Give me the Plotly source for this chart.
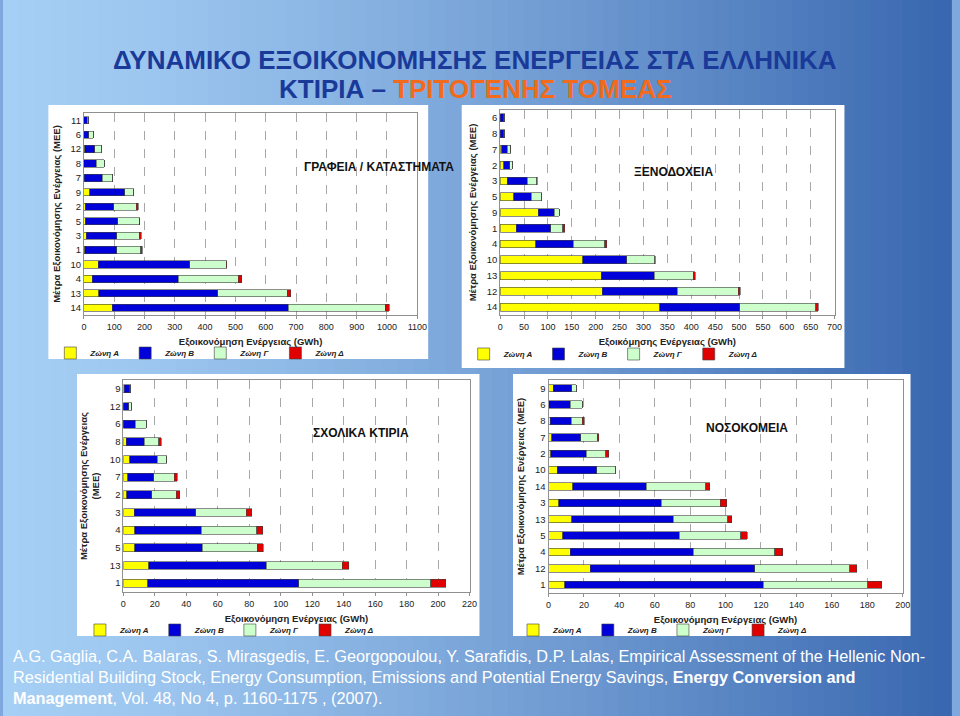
import plotly.graph_objects as go

W, H = 960, 716

zones = ["Ζώνη Α", "Ζώνη Β", "Ζώνη Γ", "Ζώνη Δ"]
zone_colors = ["#ffff00", "#0000d8", "#ccffcc", "#e00000"]

# ---- Panel 1: ΓΡΑΦΕΙΑ / ΚΑΤΑΣΤΗΜΑΤΑ (bottom -> top)
off_cats = ["14", "13", "4", "10", "1", "3", "5", "2", "9", "7", "8", "12", "6", "11"]
off_A = [94, 49, 27, 47, 3, 8, 5, 4, 20, 2, 0, 3, 0, 0]
off_B = [581, 393, 284, 303, 105, 101, 106, 95, 114, 58, 40, 33, 16, 11]
off_G = [320, 229, 199, 119, 80, 74, 71, 74, 31, 36, 28, 21, 15, 5]
off_D = [13, 12, 10, 2, 4, 6, 3, 7, 0, 0, 0, 0, 0, 0]

# ---- Panel 2: ΞΕΝΟΔΟΧΕΙΑ
hot_cats = ["14", "12", "13", "10", "4", "1", "9", "5", "3", "2", "7", "8", "6"]
hot_A = [334, 214, 212, 173, 74, 34, 80, 28, 15, 8, 3, 0, 0]
hot_B = [168, 157, 111, 92, 79, 72, 33, 37, 42, 12, 12, 8, 7]
hot_G = [159, 127, 81, 59, 66, 25, 11, 22, 20, 5, 7, 2, 3]
hot_D = [5, 5, 4, 1, 4, 4, 0, 0.5, 1, 0, 0, 0, 0]

# ---- Panel 3: ΣΧΟΛΙΚΑ ΚΤΙΡΙΑ
sch_cats = ["1", "13", "5", "4", "3", "2", "7", "10", "8", "6", "12", "9"]
sch_A = [15.6, 16, 7.3, 7.3, 6.9, 2.1, 2.7, 4.2, 1.9, 0, 0, 0.6]
sch_B = [96, 74.7, 42.7, 42.3, 39.2, 16, 16.5, 17.3, 11.4, 7.7, 3.5, 3.4]
sch_G = [83.8, 48.4, 35, 35.3, 32.1, 15.5, 13.3, 6, 9.2, 6.7, 1.7, 0.8]
sch_D = [9.4, 4.2, 4, 3.7, 3.3, 2.1, 1.7, 0, 1.5, 0, 0, 0]

# ---- Panel 4: ΝΟΣΟΚΟΜΕΙΑ
hos_cats = ["1", "12", "4", "5", "13", "3", "14", "10", "2", "7", "8", "6", "9"]
hos_A = [9.1, 23.5, 12.3, 8, 13.2, 5.8, 13.8, 5, 1.3, 1.9, 1.1, 0, 2.6]
hos_B = [112.3, 92.9, 69.3, 65.9, 57.2, 57.9, 41.3, 22.2, 19.9, 16.2, 11.6, 12.3, 10.6]
hos_G = [59, 53.6, 46.1, 34.7, 30.7, 33.3, 33.7, 10.4, 11, 9.3, 6.3, 6.7, 2.6]
hos_D = [7.9, 4.1, 4.5, 3.7, 2.3, 3.7, 2.3, 0, 1.7, 1.1, 1.1, 0, 0]

panel_titles = ["ΓΡΑΦΕΙΑ / ΚΑΤΑΣΤΗΜΑΤΑ", "ΞΕΝΟΔΟΧΕΙΑ", "ΣΧΟΛΙΚΑ ΚΤΙΡΙΑ", "ΝΟΣΟΚΟΜΕΙΑ"]
x_titles = ["Εξοικονόμηση Ενέργειας (GWh)", "Εξοικόμησης Ενέργειας (GWh)",
            "Εξοικονόμηση Ενέργειας (GWh)", "Εξοικονόμηση Ενέργειας (GWh)"]
y_titles = ["Μέτρα Εξοικονόμησης Ενέργειας (ΜΕΕ)", "Μέτρα Εξοικονόμησης Ενέργειας (ΜΕΕ)",
            "Μέτρα Εξοικονόμησης Ενέργειας<br>(ΜΕΕ)", "Μέτρα Εξοικονόμησης Ενέργειας (ΜΕΕ)"]

panels = [
    dict(cats=off_cats, vals=[off_A, off_B, off_G, off_D], rng=[0, 1100], dtick=100,
         box=(46, 105, 431, 359), plot=(82, 113, 420, 315), leg=(48, 353),
         ttl=(303, 158), bw=0.5),
    dict(cats=hot_cats, vals=[hot_A, hot_B, hot_G, hot_D], rng=[0, 700], dtick=50,
         box=(465, 105, 853, 368), plot=(504, 110, 843, 315), leg=(467, 354),
         ttl=(722, 163), bw=0.5),
    dict(cats=sch_cats, vals=[sch_A, sch_B, sch_G, sch_D], rng=[0, 220], dtick=20,
         box=(75, 374, 483, 636), plot=(122, 380, 473, 592), leg=(78, 630),
         ttl=(363, 433), bw=0.45),
    dict(cats=hos_cats, vals=[hos_A, hos_B, hos_G, hos_D], rng=[0, 200], dtick=20,
         box=(517, 374, 920, 636), plot=(553, 380, 912, 593), leg=(517, 630),
         ttl=(798, 428), bw=0.45),
]

def px(x):
    return x / W

def py(y):
    return 1 - y / H

fig = go.Figure()
shapes = []

# slide background gradient (light blue -> darker blue)
c0 = (166, 207, 245)
c1 = (58, 104, 176)
n = 60
for i in range(n):
    t = i / (n - 1)
    col = tuple(int(c0[k] + (c1[k] - c0[k]) * t ** 1.3) for k in range(3))
    shapes.append(dict(type="rect", xref="paper", yref="paper", layer="below",
                       x0=i / n, x1=(i + 1) / n + 0.002, y0=0, y1=1,
                       fillcolor="rgb(%d,%d,%d)" % col, line=dict(width=0)))

annotations = []
layout_axes = {}
font = "Arial, 'Liberation Sans', sans-serif"
narrow = "'Liberation Sans Narrow', 'Arial Narrow', Arial, sans-serif"

for p_i, p in enumerate(panels):
    k = p_i + 1
    xa = "x" if k == 1 else "x%d" % k
    ya = "y" if k == 1 else "y%d" % k
    lg = "legend" if k == 1 else "legend%d" % k
    bx0, by0, bx1, by1 = p["box"]
    shapes.append(dict(type="rect", xref="paper", yref="paper", layer="below",
                       x0=px(bx0), x1=px(bx1), y0=py(by1), y1=py(by0),
                       fillcolor="white", line=dict(width=0)))
    for z, (zn, zc) in enumerate(zip(zones, zone_colors)):
        fig.add_trace(go.Bar(
            y=p["cats"], x=p["vals"][z], orientation="h", name="<b><i>%s</i></b>" % zn,
            marker=dict(color=zc, line=dict(color="#404040", width=0.6)),
            width=p["bw"], xaxis=xa, yaxis=ya, legend=lg, showlegend=True))
    X0, Y0, X1, Y1 = p["plot"]
    layout_axes["xaxis" if k == 1 else "xaxis%d" % k] = dict(
        domain=[px(X0), px(X1)], anchor=ya, range=p["rng"], dtick=p["dtick"],
        showgrid=True, gridcolor="#a8a8a8", griddash="dash", gridwidth=0.7,
        showline=True, linecolor="#909090", linewidth=1, mirror=True,
        ticks="outside", ticklen=3, tickcolor="#909090", zeroline=False,
        tickfont=dict(size=9, color="#222", family=font),
        title=dict(text="<b>%s</b>" % x_titles[p_i], font=dict(size=9.5, color="#222", family=font),
                   standoff=7))
    layout_axes["yaxis" if k == 1 else "yaxis%d" % k] = dict(
        domain=[py(Y1), py(Y0)], anchor=xa, type="category",
        categoryorder="array", categoryarray=p["cats"],
        showgrid=False, showline=True, linecolor="#909090", linewidth=1, mirror=True,
        ticks="", zeroline=False,
        tickfont=dict(size=9.5, color="#222", family=font),
        title=dict(text="<b>%s</b>" % y_titles[p_i], font=dict(size=9.5, color="#222", family=font),
                   standoff=8))
    lx, ly = p["leg"]
    layout_axes[lg] = dict(orientation="h", x=px(lx), y=py(ly), xanchor="left", yanchor="middle",
                           font=dict(size=8, color="#222", family=font), bgcolor="rgba(0,0,0,0)",
                           itemwidth=30, tracegroupgap=0, traceorder="normal")
    tx, ty = p["ttl"]
    annotations.append(dict(text="<b>%s</b>" % panel_titles[p_i], x=px(tx), y=py(ty),
                            xref="paper", yref="paper", showarrow=False,
                            font=dict(size=12, color="#111", family=font)))

# main title
annotations.append(dict(
    text="<b>ΔΥΝΑΜΙΚΟ ΕΞΟΙΚΟΝΟΜΗΣΗΣ ΕΝΕΡΓΕΙΑΣ ΣΤΑ ΕΛΛΗΝΙΚΑ</b>",
    x=px(478), y=py(43), xref="paper", yref="paper", showarrow=False,
    font=dict(size=26, color="#1a3a99", family=narrow)))
annotations.append(dict(
    text="<b>ΚΤΙΡΙΑ – <span style='color:#f26a1b'>ΤΡΙΤΟΓΕΝΗΣ ΤΟΜΕΑΣ</span></b>",
    x=px(479), y=py(72), xref="paper", yref="paper", showarrow=False,
    font=dict(size=26, color="#1a3a99", family=narrow)))

# citation
cite = ("A.G. Gaglia, C.A. Balaras, S. Mirasgedis, E. Georgopoulou, Y. Sarafidis, D.P. Lalas, Empirical Assessment of the Hellenic Non-<br>"
        "Residential Building Stock, Energy Consumption, Emissions and Potential Energy Savings, <b>Energy Conversion and</b><br>"
        "<b>Management</b>, Vol. 48, No 4, p. 1160-1175 , (2007).")
annotations.append(dict(text=cite, x=px(8), y=py(677), xref="paper", yref="paper",
                        xanchor="left", yanchor="middle", align="left", showarrow=False,
                        font=dict(size=16.3, color="white", family=narrow)))

fig.update_layout(
    width=W, height=H, autosize=False,
    margin=dict(l=0, r=0, t=0, b=0),
    paper_bgcolor="#7fa9de", plot_bgcolor="white",
    barmode="stack", showlegend=True,
    shapes=shapes, annotations=annotations,
    **layout_axes)

fig.write_html("out.html", config={"displayModeBar": False},
               post_script="document.body.style.margin='0';")
